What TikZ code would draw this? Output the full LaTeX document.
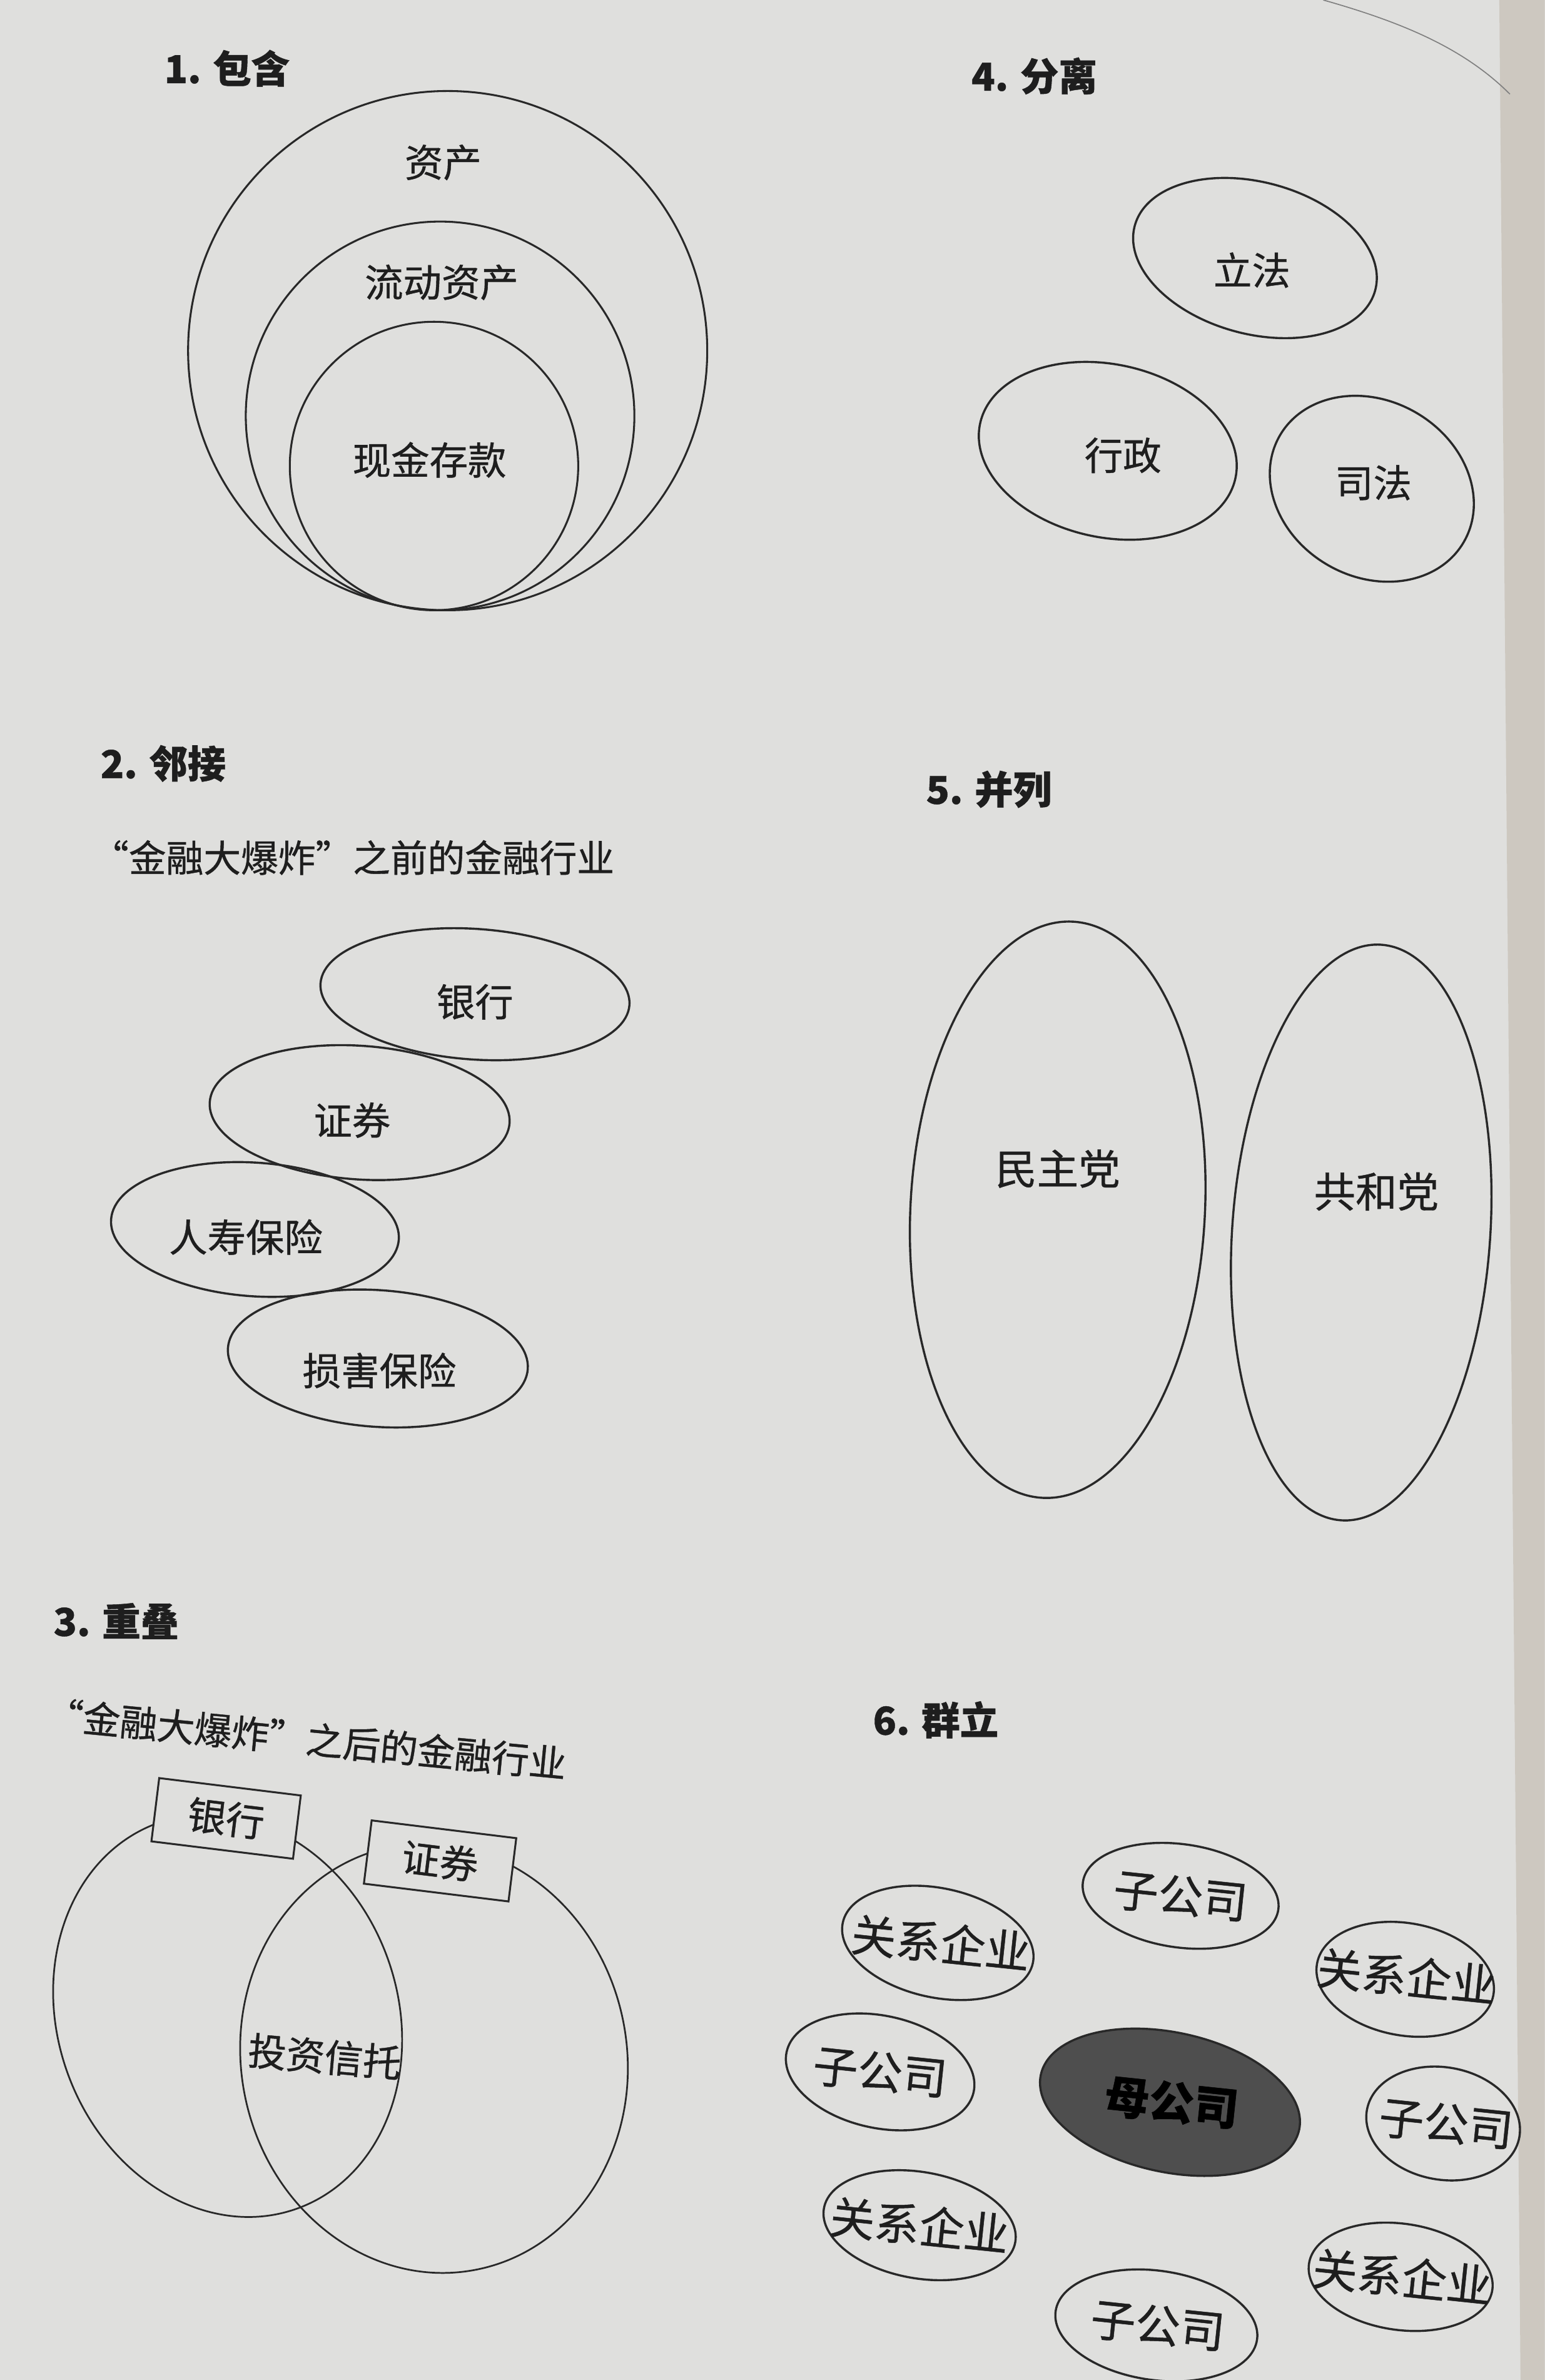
\documentclass[tikz,border=0pt]{standalone}
\usepackage{fontspec}
\setmainfont{Noto Sans CJK SC}[RawFeature={embolden=0.7}]
\usetikzlibrary{shapes.geometric}
\definecolor{paper}{RGB}{223,223,221}
\definecolor{ink}{RGB}{30,30,30}
\definecolor{edgeline}{RGB}{40,40,40}
\definecolor{spine}{RGB}{205,200,192}
\definecolor{mother}{RGB}{78,78,78}
\begin{document}
\begin{tikzpicture}[x=0.025cm,y=-0.025cm,
  ttl/.style={font=\fontsize{18}{20}\selectfont\bfseries, text=ink, anchor=west, inner sep=0},
  sub/.style={font=\fontsize{17.5}{19}\selectfont, text=ink, anchor=west, inner sep=0},
  lbl/.style={font=\fontsize{18}{20}\selectfont, text=ink, inner sep=0},
  big/.style={font=\fontsize{19.5}{21}\selectfont, text=ink, inner sep=0},
  grp/.style={font=\fontsize{21}{23}\selectfont, text=ink, inner sep=0, rotate=-6},
  ring/.style={circle, draw=edgeline, line width=0.9pt, inner sep=0, minimum size=#1*0.05cm},
  oval/.style n args={3}{ellipse, draw=edgeline, line width=1pt, inner sep=0, minimum width=#1*0.05cm, minimum height=#2*0.05cm, rotate=#3},
  tag/.style={draw=edgeline, fill=paper, line width=0.9pt, inner sep=0, minimum width=#1*0.025cm, minimum height=42*0.025cm, rotate=-7, font=\fontsize{18}{20}\selectfont, text=ink},
]
\fill[paper] (0,0) rectangle (1018,1568);
\useasboundingbox (0,0) rectangle (1018,1568);
\fill[spine] (988,0) -- (1018,0) -- (1018,1568) -- (1002,1568) -- cycle;
\draw[gray, line width=0.5pt] (872,0) .. controls (925,15) and (965,32) .. (995,62);

% ---------- 1. 包含
\node[ttl] (h1) at (108,45) {1. 包含};
\node[ring=171] (outer) at (295,231) {};
\node[ring=128] (middle) at (290,274) {};
\node[ring=95] (inner) at (286,307) {};
\node[lbl] (t-zc) at (292,107) {资产};
\node[lbl] (t-ld) at (291,186) {流动资产};
\node[lbl] (t-xj) at (283,303) {现金存款};

% ---------- 4. 分离
\node[ttl] (h4) at (640,50) {4. 分离};
\node[oval={82}{50}{-15}] (lf) at (827,170) {};
\node[oval={86}{57}{-12}] (xz) at (730,297) {};
\node[oval={70}{58}{-30}] (sf) at (904,322) {};
\node[lbl] (t-lf) at (825,178) {立法};
\node[lbl] (t-xz) at (740,300) {行政};
\node[lbl] (t-sf) at (905,318) {司法};

% ---------- 2. 邻接
\node[ttl] (h2) at (66,503) {2. 邻接};
\node[sub] (s2) at (60,565) {“金融大爆炸”之前的金融行业};
\node[oval={102}{43}{-4}] (yh2) at (313,655) {};
\node[oval={99}{44}{-4}] (zq2) at (237,733) {};
\node[oval={95}{44}{-4}] (rs2) at (168,810) {};
\node[oval={99}{45}{-4}] (sh2) at (249,895) {};
\node[lbl] (t-yh2) at (313,660) {银行};
\node[lbl] (t-zq2) at (232,738) {证券};
\node[lbl] (t-rs2) at (162,815) {人寿保险};
\node[lbl] (t-sh2) at (250,903) {损害保险};

% ---------- 5. 并列
\node[ttl] (h5) at (610,520) {5. 并列};
\node[oval={97}{190}{-3}] (mz) at (697,797) {};
\node[oval={85}{190}{-4}] (gh) at (897,812) {};
\node[big] (t-mz) at (697,770) {民主党};
\node[big] (t-gh) at (907,785) {共和党};

% ---------- 3. 重叠
\node[ttl] (h3) at (35,1068) {3. 重叠};
\node[sub, rotate=-5.5] (s3) at (30,1129) {“金融大爆炸”之后的金融行业};
\node[oval={112}{135}{20}, line width=0.8pt] (bank) at (150,1328) {};
\node[oval={127}{142}{12}, line width=0.8pt] (sec) at (286,1356) {};
\node[tag=94] (bank-tag) at (149,1198) {银行};
\node[tag=96] (sec-tag) at (290,1226) {证券};
\node[lbl, rotate=-5] (t-tz) at (214,1355) {投资信托};

% ---------- 6. 群立
\node[ttl] (h6) at (575,1133) {6. 群立};
\node[oval={65}{34}{-8}] (c1) at (778,1249) {};
\node[oval={64}{36}{-12}] (a1) at (618,1280) {};
\node[oval={59}{37}{-10}] (a2) at (926,1304) {};
\node[oval={63}{37}{-12}] (c2) at (580,1365) {};
\node[oval={87}{46}{-12}, fill=mother] (mom) at (771,1385) {};
\node[oval={51}{37}{-10}] (c3) at (951,1399) {};
\node[oval={64}{35}{-10}] (a3) at (606,1466) {};
\node[oval={61}{35}{-8}] (a4) at (923,1500) {};
\node[oval={67}{36}{-8}] (c4) at (762,1532) {};
\node[grp] (t-c1) at (778,1249) {子公司};
\node[grp] (t-a1) at (620,1280) {关系企业};
\node[grp] (t-a2) at (927,1302) {关系企业};
\node[grp] (t-c2) at (580,1365) {子公司};
\node[grp, text=black, font=\fontsize{21}{23}\selectfont\bfseries] (t-mom) at (772,1385) {母公司};
\node[grp] (t-c3) at (953,1399) {子公司};
\node[grp] (t-a3) at (606,1466) {关系企业};
\node[grp] (t-a4) at (924,1500) {关系企业};
\node[grp] (t-c4) at (763,1532) {子公司};
\end{tikzpicture}
\end{document}
